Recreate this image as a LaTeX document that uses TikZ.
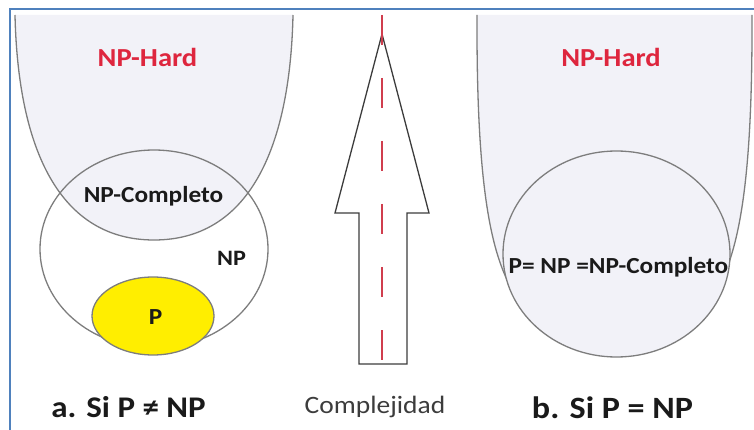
\documentclass[tikz,border=0pt]{standalone}
\usepackage{fontspec}
\setmainfont{Carlito}[FakeStretch=1.1]
\definecolor{lav}{RGB}{242,242,248}
\definecolor{setgray}{RGB}{125,125,125}
\definecolor{txt}{RGB}{26,26,26}
\definecolor{hardred}{RGB}{222,38,62}
\definecolor{pyellow}{RGB}{255,238,0}
\definecolor{dashred}{RGB}{208,62,78}
\definecolor{arrgray}{RGB}{60,60,60}
\definecolor{bordblue}{RGB}{79,129,189}
\begin{document}
\begin{tikzpicture}[x=1pt,y=-1pt,
  setline/.style={draw=setgray,line width=1.3pt},
  lbl/.style={anchor=base,inner sep=0pt,text=txt,font=\bfseries\fontsize{23}{27}\selectfont},
  hardlbl/.style={anchor=base,inner sep=0pt,text=hardred,font=\bfseries\fontsize{26}{30}\selectfont},
  caption/.style={anchor=base,inner sep=0pt,text=txt,font=\bfseries\fontsize{31}{36}\selectfont},
]
\useasboundingbox (0,0) rectangle (754,430);
% frame
\draw[bordblue,line width=2pt] (9.5,430) -- (9.5,9) -- (754,9);
% left NP-Hard region
\path[fill=lav] (15,15) .. controls (18,150) and (60,240) .. (154,240) .. controls (248,240) and (290,150) .. (293,15) -- cycle;
\draw[setline] (15,15) .. controls (18,150) and (60,240) .. (154,240) .. controls (248,240) and (290,150) .. (293,15);
% NP circle
\draw[setline] (154,249) ellipse [x radius=114, y radius=99];
% P ellipse
\draw[setline,fill=pyellow] (153,316) ellipse [x radius=61, y radius=39];
% right NP-Hard region
\path[fill=lav] (477,15) .. controls (476,300) and (515,335) .. (614.5,335) .. controls (714,335) and (753,300) .. (752,15) -- cycle;
\draw[setline] (477,15) .. controls (476,300) and (515,335) .. (614.5,335) .. controls (714,335) and (753,300) .. (752,15);
\draw[setline,fill=lav] (616.5,254) ellipse [x radius=113.5, y radius=103];
% arrow
\draw[arrgray,line width=1.3pt,line join=miter] (382,34) -- (429,213) -- (407,213) -- (407,364) -- (359,364) -- (359,213) -- (335,213) -- cycle;
\draw[dashred,line width=2pt,dash pattern=on 30pt off 33pt] (382,15) -- (382,387);
% labels
\node[hardlbl] (hardL) at (147.5,67) {NP-Hard};
\node[hardlbl] (hardR) at (611,67) {NP-Hard};
\node[lbl] (npc) at (153.5,203) {NP-Completo};
\node[lbl,font=\bfseries\fontsize{22}{26}\selectfont] (np) at (231.5,265) {NP};
\node[lbl] (p) at (155.5,324) {P};
\node[lbl] (eq) at (618.5,273) {P= NP =NP-Completo};
\node[caption,font=\bfseries\fontsize{30}{36}\selectfont] (capA) at (128.5,417) {a. Si P ≠ NP};
\node[caption] (capB) at (612.5,418) {b. Si P = NP};
\node[anchor=base,inner sep=0pt,text=txt!85,font=\fontsize{25}{30}\selectfont] (cx) at (375,413) {Complejidad};
\end{tikzpicture}
\end{document}
